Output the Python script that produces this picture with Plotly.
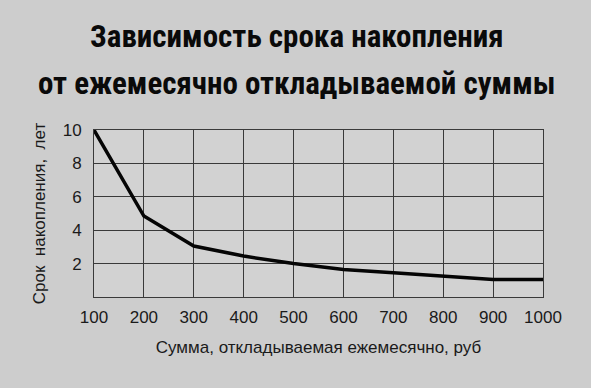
import plotly.graph_objects as go

sums = [100, 200, 300, 400, 500, 600, 700, 800, 900, 1000]
years = [10, 4.85, 3.05, 2.45, 2.0, 1.65, 1.45, 1.25, 1.05, 1.05]
x_ticks = [100, 200, 300, 400, 500, 600, 700, 800, 900, 1000]
y_ticks = [2, 4, 6, 8, 10]

title_line1 = "Зависимость срока накопления"
title_line2 = "от ежемесячно откладываемой суммы"
x_title = "Сумма, откладываемая ежемесячно, руб"
y_title = "Срок  накопления,  лет"

fig = go.Figure()
fig.add_trace(go.Scatter(x=sums, y=years, mode="lines",
                         line=dict(color="#050505", width=3.5), showlegend=False,
                         cliponaxis=False))

title_font = dict(family="Roboto Condensed, Liberation Sans Narrow, Liberation Sans", size=31, color="#0a0a0a")
for text, shift in [(title_line1, 0), (title_line2, 47)]:
    fig.add_annotation(text="<b>" + text + "</b>", xref="paper", yref="paper",
                       x=0.5, y=1, xanchor="center", yanchor="middle",
                       xshift=-22, yshift=94 - shift, showarrow=False, font=title_font)

axis_font = dict(family="Liberation Sans, Arial", size=17, color="#1a1a1a")
fig.update_xaxes(range=[100, 1000], tickvals=x_ticks, showgrid=True, gridcolor="#3a3a3a",
                 gridwidth=1, showline=True, linecolor="#3a3a3a", mirror=True, zeroline=False,
                 ticks="", tickfont=axis_font, ticklabelstandoff=5,
                 title=dict(text=x_title, font=dict(family="Liberation Sans, Arial", size=17, color="#1a1a1a"), standoff=14))
fig.update_yaxes(range=[0, 10], tickvals=y_ticks, showgrid=True, gridcolor="#3a3a3a",
                 gridwidth=1, showline=True, linecolor="#3a3a3a", mirror=True, zeroline=False,
                 ticks="", tickfont=axis_font, ticklabelstandoff=8,
                 title=dict(text=y_title, font=dict(family="Liberation Sans, Arial", size=17, color="#1a1a1a"), standoff=12))

fig.update_layout(width=591, height=388, margin=dict(l=94, r=48, t=130, b=91),
                  paper_bgcolor="#cdcdcd", plot_bgcolor="#d2d2d2")

fig.write_html("out.html")
